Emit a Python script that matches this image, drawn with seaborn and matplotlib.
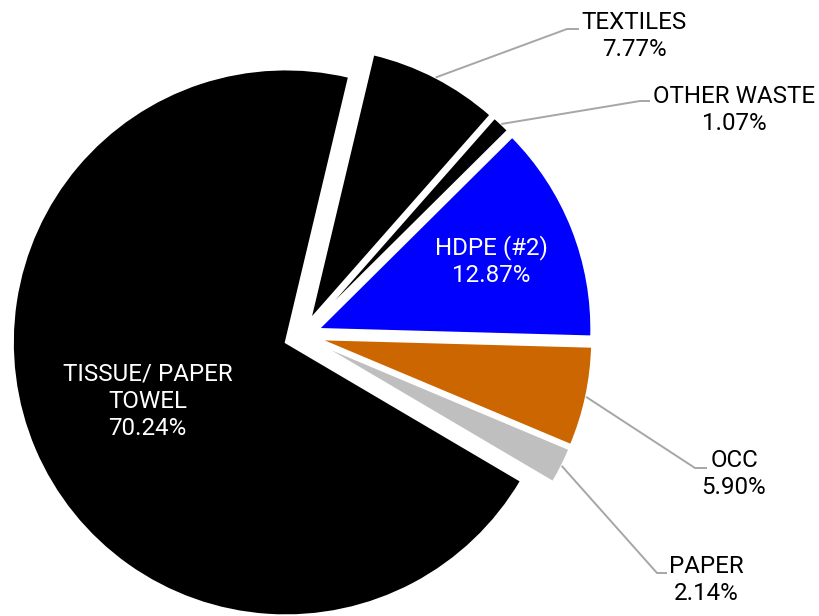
import numpy as np
import matplotlib
matplotlib.use("Agg")
import matplotlib.pyplot as plt
import seaborn as sns

# Waste composition shares (percent), in clockwise order from the top
categories = ["TEXTILES", "OTHER WASTE", "HDPE (#2)", "OCC", "PAPER", "TISSUE/ PAPER\nTOWEL"]
shares = [7.77, 1.07, 12.87, 5.90, 2.14, 70.24]
slice_colors = ["#000000", "#000000", "#0000FF", "#CC6600", "#BFBFBF", "#000000"]

sns.set_theme(style="white")
plt.rcParams["font.family"] = ["Roboto", "DejaVu Sans"]

W, H = 820, 616
fig = plt.figure(figsize=(W / 100, H / 100), dpi=100)
ax = fig.add_axes([0, 0, 1, 1])

# pixel frame: pie centre and radius
R_PX = 273.0
CX, CY = 302.0, 335.5


def to_data(px, py):
    return (px - CX) / R_PX, (CY - py) / R_PX


EXPLODE = 0.0645
wedges, _ = ax.pie(
    shares,
    colors=slice_colors,
    startangle=76.6,
    counterclock=False,
    explode=[EXPLODE] * len(shares),
    radius=1.0,
    wedgeprops=dict(edgecolor="white", linewidth=1.5),
)

x0, y0 = to_data(0, H)
x1, y1 = to_data(W, 0)
ax.set_xlim(x0, x1)
ax.set_ylim(y0, y1)
ax.set_aspect("equal")
ax.axis("off")

FS = 17.4
LS = 1.22


def label_text(i):
    return f"{categories[i]}\n{shares[i]:.2f}%"


def mid_angle(w):
    return np.deg2rad((w.theta1 + w.theta2) / 2)


# outside labels with elbow leader lines: (index, text centre px, elbow px, end px)
outside = [
    (0, (634, 36), (567, 29), (579, 29)),
    (1, (734, 110), (640, 101), (650, 101)),
    (3, (734, 474), (695, 468), (707, 468)),
    (4, (706, 580), (657, 573), (667, 573)),
]
for i, tpos, elbow, end in outside:
    a = mid_angle(wedges[i])
    r = 1.0 + EXPLODE
    ax_pt = (r * np.cos(a), r * np.sin(a))
    ex, ey = to_data(*elbow)
    nx, ny = to_data(*end)
    ax.plot([ax_pt[0], ex, nx], [ax_pt[1], ey, ny], color="#A6A6A6", lw=1.4,
            solid_capstyle="butt", zorder=1)
    tx, ty = to_data(*tpos)
    ax.text(tx, ty, label_text(i), ha="center", va="center", fontsize=FS,
            color="black", linespacing=LS, multialignment="center")

# inside labels in white
inside = [(2, 0.68), (5, 0.55)]
for i, rr in inside:
    a = mid_angle(wedges[i])
    cx, cy = EXPLODE * np.cos(a), EXPLODE * np.sin(a)
    tx, ty = cx + rr * np.cos(a), cy + rr * np.sin(a)
    ax.text(tx, ty, label_text(i), ha="center", va="center", fontsize=FS,
            color="white", linespacing=LS, multialignment="center")

fig.savefig("out.png", dpi=100)
